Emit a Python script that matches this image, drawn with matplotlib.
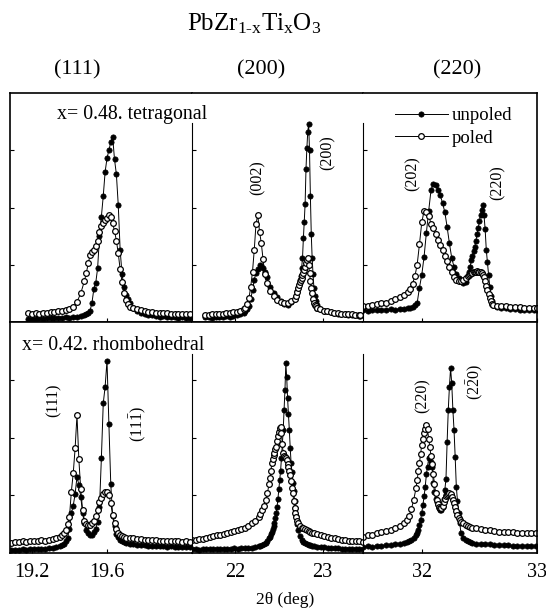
import numpy as np
import matplotlib
matplotlib.use("Agg")
import matplotlib.pyplot as plt

plt.rcParams["font.family"] = ["Liberation Serif", "DejaVu Serif"]
plt.rcParams["mathtext.fontset"] = "custom"
plt.rcParams["mathtext.rm"] = "Liberation Serif"
plt.rcParams["mathtext.it"] = "Liberation Serif:italic"

# --- x = 0.48, tetragonal (top row) ---
tet_111_x = [19.18, 19.20, 19.22, 19.24, 19.26, 19.28, 19.30, 19.32, 19.34, 19.36, 19.38, 19.40,
             19.42, 19.44, 19.46, 19.48,
             19.49, 19.50, 19.51, 19.52, 19.53, 19.54, 19.55, 19.56, 19.57, 19.58, 19.59, 19.60,
             19.61, 19.62, 19.63, 19.64, 19.65, 19.66, 19.67, 19.68, 19.69, 19.70, 19.71, 19.72,
             19.74, 19.76, 19.78, 19.80, 19.82, 19.84, 19.86, 19.88, 19.90, 19.92, 19.94, 19.96,
             19.98, 20.00, 20.02, 20.04]
tet_111_unpoled = [1.2, 1.5, 1.3, 1.6, 1.4, 1.7, 1.6, 1.8, 1.7, 1.9, 2.0, 1.9, 2.2, 2.4, 2.7, 3.1,
                   3.4, 3.8, 5.0, 8.5, 14.5, 17.1, 23.5, 37.5, 46.0, 55.0, 65.6, 71.5,
                   75.0, 78.5, 80.9, 71.0, 64.5, 51.0, 31.5, 21.0, 15.5, 12.0, 10.0, 8.2,
                   6.0, 4.8, 4.0, 3.5, 3.1, 2.9, 2.6, 2.4, 2.5, 2.2, 2.1, 2.2, 1.9, 2.0, 1.8, 1.9]
tet_111_poled = [3.8, 3.5, 4.0, 3.7, 4.1, 3.9, 4.3, 4.2, 4.6, 4.8, 5.1, 5.6, 6.7, 8.8, 12.5, 18.0,
                 21.5, 25.6, 29.3, 30.5, 31.5, 33.0, 35.5, 39.5, 41.8, 43.1, 44.5, 45.5,
                 46.7, 45.8, 43.1, 39.8, 35.5, 30.0, 23.0, 17.5, 12.5, 9.6, 8.0, 6.7,
                 6.0, 5.5, 5.2, 4.8, 4.5, 4.4, 4.1, 4.0, 3.8, 3.9, 3.6, 3.7, 3.4, 3.5, 3.3, 3.4]

tet_200_x = [21.66, 21.70, 21.74, 21.78, 21.82, 21.86, 21.90, 21.94, 21.98, 22.02, 22.06, 22.10,
             22.12, 22.14, 22.16, 22.18, 22.20, 22.22, 22.24, 22.26, 22.28, 22.30, 22.32, 22.34, 22.36,
             22.40, 22.44, 22.48, 22.52, 22.56, 22.60, 22.64, 22.68,
             22.70, 22.71, 22.72, 22.73, 22.74, 22.75, 22.76, 22.77, 22.78, 22.79, 22.80, 22.81,
             22.82, 22.83, 22.84, 22.85, 22.86, 22.87, 22.88, 22.89, 22.90, 22.91, 22.92, 22.93, 22.94,
             22.97, 23.01, 23.05, 23.09, 23.13, 23.17, 23.21, 23.25, 23.29, 23.33, 23.37, 23.41, 23.43]
tet_200_unpoled = [2.0, 2.2, 1.9, 2.1, 2.3, 2.2, 2.5, 2.4, 2.7, 3.0, 3.3, 4.0,
                   4.6, 5.5, 7.0, 10.0, 14.0, 18.5, 21.5, 23.2, 24.8, 24.5, 23.5, 21.8, 19.5,
                   15.5, 12.8, 11.0, 9.3, 7.8, 7.6, 8.6, 10.0,
                   11.5, 13.5, 14.8, 16.5, 18.2, 19.9, 23.5, 27.8, 36.5, 43.8, 51.7, 67.0,
                   76.0, 83.0, 86.5, 75.0, 55.0, 38.5, 28.0, 21.0, 15.0, 11.2, 9.0, 7.5, 6.4,
                   5.6, 5.0, 4.6, 4.2, 4.0, 3.7, 3.5, 3.3, 3.2, 3.0, 2.9, 2.8, 2.7]
tet_200_poled = [3.2, 3.0, 3.4, 3.3, 3.6, 3.5, 3.8, 4.0, 4.2, 4.5, 4.9, 5.6,
                 6.2, 8.0, 10.5, 15.5, 22.0, 31.5, 43.0, 46.7, 39.5, 34.5, 27.5, 21.0, 17.0,
                 13.5, 11.5, 9.7, 8.8, 8.3, 8.5, 9.2, 10.2,
                 11.5, 13.0, 14.8, 16.0, 17.5, 18.5, 19.3, 20.5, 21.5, 22.8, 24.0, 25.6,
                 27.0, 27.8, 24.9, 21.5, 18.0, 15.0, 12.5, 10.0, 8.5, 7.5, 6.8, 6.3, 6.0,
                 5.5, 5.0, 4.6, 4.3, 4.1, 3.9, 3.7, 3.6, 3.4, 3.3, 3.2, 3.0, 3.0]

tet_220_x = [31.49, 31.53, 31.57, 31.61, 31.65, 31.69, 31.73, 31.77, 31.81, 31.85,
             31.88, 31.90, 31.92, 31.94, 31.96, 31.98, 32.00, 32.02, 32.04, 32.06, 32.08, 32.10,
             32.12, 32.14, 32.16, 32.18, 32.20, 32.22, 32.24, 32.26, 32.28, 32.30, 32.32, 32.34,
             32.36, 32.38, 32.40,
             32.41, 32.42, 32.43, 32.44, 32.45, 32.46, 32.47, 32.48, 32.49, 32.50, 32.51, 32.52,
             32.53, 32.54, 32.55, 32.56, 32.57, 32.58, 32.59, 32.60, 32.61, 32.62,
             32.65, 32.69, 32.73, 32.77, 32.81, 32.85, 32.89, 32.93, 32.97, 33.00]
tet_220_unpoled = [5.4, 5.0, 5.3, 5.1, 5.4, 5.2, 5.5, 5.4, 5.7, 5.8,
                   6.0, 6.2, 6.6, 7.3, 8.3, 15.0, 20.6, 28.5, 39.0, 48.5, 57.5, 60.4,
                   59.8, 57.8, 55.5, 52.0, 48.0, 41.5, 34.3, 28.0, 24.0, 21.0, 19.0, 17.8,
                   17.2, 17.3, 19.9,
                   22.0, 24.0, 27.1, 29.0, 31.0, 32.9, 35.5, 38.5, 41.0, 44.0, 46.7, 49.0,
                   51.0, 46.7, 40.5, 31.4, 26.0, 20.5, 15.5, 11.5, 9.0, 7.6,
                   6.6, 6.3, 6.0, 5.8, 5.6, 5.4, 5.3, 5.2, 5.1, 5.1]
tet_220_poled = [6.8, 7.0, 7.4, 7.7, 8.1, 8.5, 9.3, 10.0, 10.9, 11.8,
                 13.0, 14.5, 16.8, 19.9, 25.0, 34.0, 43.5, 48.5, 48.0, 46.5, 43.0, 41.0,
                 38.5, 35.8, 33.5, 31.4, 29.0, 26.5, 24.2, 21.8, 19.8, 18.4, 17.9, 17.7,
                 18.5, 19.3, 20.2,
                 20.6, 21.0, 21.3, 21.6, 21.8, 22.0, 22.0, 22.1, 22.0, 22.0, 22.0, 21.4,
                 20.6, 19.5, 17.7, 15.8, 14.0, 12.2, 10.4, 9.0, 8.0, 7.5,
                 7.1, 6.9, 6.8, 6.6, 6.5, 6.4, 6.3, 6.2, 6.1, 6.1]

# --- x = 0.42, rhombohedral (bottom row) ---
rho_111_x = [19.09, 19.11, 19.13, 19.15, 19.17, 19.19, 19.21, 19.23, 19.25, 19.27, 19.29, 19.31,
             19.33, 19.35,
             19.36, 19.37, 19.38, 19.39, 19.40, 19.41, 19.42, 19.43, 19.44, 19.45, 19.46, 19.47,
             19.48, 19.49, 19.50, 19.51, 19.52, 19.53, 19.54, 19.55, 19.56, 19.57, 19.58, 19.59,
             19.60, 19.61, 19.62, 19.63, 19.64, 19.65, 19.66, 19.67, 19.68, 19.69, 19.70,
             19.72, 19.74, 19.76, 19.78, 19.80, 19.82, 19.84, 19.86, 19.88, 19.90, 19.92, 19.94,
             19.96, 19.98, 20.00, 20.02, 20.04]
rho_111_unpoled = [1.3, 1.5, 1.4, 1.6, 1.5, 1.7, 1.6, 1.8, 1.9, 1.8, 2.0, 2.2, 2.4, 2.9,
                   3.3, 3.9, 5.0, 6.5, 10.5, 17.2, 20.5, 25.5, 33.0, 29.5, 24.4, 17.2,
                   12.8, 10.0, 8.5, 7.8, 8.0, 8.9, 10.5, 13.5, 20.0, 41.0, 64.8, 72.0,
                   83.3, 56.0, 30.0, 16.0, 11.5, 8.2, 6.8, 5.6, 5.0, 4.6, 4.3,
                   4.0, 3.9, 3.6, 3.5, 3.3, 3.2, 3.1, 3.0, 3.0, 2.9, 2.8, 2.9, 2.7, 2.8, 2.6, 2.7, 2.6]
rho_111_poled = [4.5, 4.8, 4.6, 5.0, 4.9, 5.2, 5.3, 5.1, 5.5, 5.4, 5.6, 6.0, 6.5, 7.1,
                 7.8, 8.6, 10.0, 12.5, 15.7, 26.6, 34.5, 45.3, 59.7, 40.5, 27.5, 18.5,
                 14.0, 12.6, 12.2, 12.1, 12.8, 14.0, 16.0, 18.8, 22.2, 24.0, 25.5, 26.2,
                 26.6, 25.3, 21.5, 16.5, 12.8, 10.2, 8.5, 7.8, 7.2, 6.9, 6.6,
                 6.3, 6.3, 6.0, 5.9, 5.8, 5.6, 5.5, 5.5, 5.3, 5.4, 5.2, 5.1, 5.1, 5.0, 4.9, 5.0, 4.9]

rho_200_x = [21.51, 21.55, 21.59, 21.63, 21.67, 21.71, 21.75, 21.79, 21.83, 21.87, 21.91, 21.95,
             21.99, 22.03, 22.07, 22.11, 22.15, 22.19, 22.23, 22.27,
             22.29, 22.31, 22.33, 22.35, 22.37, 22.39,
             22.40, 22.41, 22.42, 22.43, 22.44, 22.45, 22.46, 22.47, 22.48, 22.49, 22.50, 22.51,
             22.52, 22.53, 22.54, 22.55, 22.56, 22.57, 22.58, 22.59, 22.60, 22.61, 22.62, 22.63,
             22.64, 22.65, 22.66, 22.67, 22.68, 22.69, 22.70, 22.71, 22.72,
             22.74, 22.76, 22.78, 22.80, 22.82, 22.84, 22.86, 22.88, 22.90,
             22.94, 22.98, 23.02, 23.06, 23.10, 23.14, 23.18, 23.22, 23.26, 23.30, 23.34, 23.38,
             23.42, 23.46]
rho_200_unpoled = [1.6, 1.8, 1.5, 1.7, 1.6, 1.8, 1.7, 1.9, 1.7, 1.8, 1.9, 1.8,
                   2.0, 1.9, 2.0, 2.1, 2.2, 2.3, 2.5, 2.9,
                   3.2, 3.5, 3.9, 4.5, 5.3, 6.5,
                   7.1, 8.2, 9.3, 10.5, 11.8, 13.2, 15.0, 17.2, 20.0, 23.5, 27.5, 31.5,
                   35.5, 41.0, 47.0, 53.2, 62.0, 70.6, 82.1, 76.0, 67.0, 60.0, 53.2, 45.5,
                   39.0, 35.0, 30.5, 27.0, 22.5, 19.5, 16.0, 12.5, 10.0,
                   7.2, 5.6, 4.7, 4.2, 3.8, 3.6, 3.4, 3.2, 3.0,
                   2.8, 2.6, 2.4, 2.3, 2.2, 2.1, 2.0, 1.9, 1.9, 1.8, 1.8, 1.7, 1.6, 1.6]
rho_200_poled = [5.5, 5.8, 6.0, 6.2, 6.6, 7.0, 7.2, 7.6, 7.9, 8.3, 8.6, 9.0,
                 9.4, 9.8, 10.3, 11.0, 11.8, 12.8, 14.0, 15.7,
                 17.0, 18.5, 20.5, 23.0, 26.0, 30.0,
                 32.5, 35.5, 38.8, 40.5, 42.5, 43.5, 45.0, 46.0, 48.5, 50.5, 52.5, 54.0,
                 54.7, 51.8, 47.0, 43.1, 42.2, 41.7, 41.0, 40.3, 38.5, 37.4, 35.5, 33.8,
                 31.0, 28.0, 25.8, 22.5, 19.5, 17.5, 15.7, 14.0, 12.8,
                 11.8, 11.0, 10.7, 10.3, 9.8, 9.5, 9.0, 8.7, 8.5,
                 8.1, 7.7, 7.3, 6.9, 6.6, 6.3, 6.0, 5.8, 5.6, 5.4, 5.2, 5.1, 5.0, 4.9]

rho_220_x = [31.49, 31.53, 31.57, 31.61, 31.65, 31.69, 31.73, 31.77, 31.81, 31.85,
             31.87, 31.89, 31.91, 31.93, 31.95,
             31.96, 31.97, 31.98, 31.99, 32.00, 32.01, 32.02, 32.03, 32.04, 32.05, 32.06, 32.07,
             32.08, 32.09, 32.10, 32.11, 32.12, 32.13, 32.14, 32.15, 32.16, 32.17, 32.18, 32.19,
             32.20, 32.21, 32.22, 32.23, 32.24, 32.25, 32.26, 32.27, 32.28, 32.29, 32.30, 32.31,
             32.32, 32.33, 32.34,
             32.36, 32.38, 32.40, 32.42, 32.44,
             32.47, 32.51, 32.55, 32.59, 32.63, 32.67, 32.71, 32.75, 32.79, 32.83, 32.87, 32.91,
             32.95, 32.99]
rho_220_unpoled = [2.7, 2.9, 2.8, 3.0, 3.1, 3.3, 3.5, 3.8, 4.1, 4.5,
                   4.9, 5.3, 5.8, 6.6, 7.6,
                   8.5, 10.0, 12.0, 14.3, 17.5, 20.8, 24.5, 28.7, 34.0, 37.4, 41.0, 41.7,
                   39.5, 37.4, 30.5, 26.5, 23.5, 22.0, 20.6, 19.5, 18.8, 18.6, 20.0, 23.5,
                   27.3, 32.0, 48.0, 62.0, 72.0, 80.0, 73.5, 62.0, 53.2, 41.5, 28.5, 22.5,
                   17.2, 13.0, 8.5,
                   6.5, 5.6, 5.0, 4.6, 4.3,
                   4.0, 3.9, 3.8, 3.7, 3.6, 3.5, 3.4, 3.3, 3.2, 3.2, 3.1, 3.1, 3.0, 3.0]
rho_220_poled = [7.1, 7.6, 8.0, 8.5, 8.9, 9.4, 10.0, 10.8, 11.8, 13.0,
                 14.5, 16.2, 19.0, 23.0, 28.0,
                 31.5, 35.5, 39.0, 43.0, 46.8, 49.5, 51.8, 53.5, 55.4, 53.5, 49.5, 46.0,
                 42.0, 38.5, 34.0, 30.0, 26.0, 22.9, 21.0, 20.0, 19.5, 19.3, 20.5, 22.2,
                 23.5, 24.5, 25.1, 25.5, 25.8, 25.4, 24.4, 23.0, 21.5, 20.0, 18.2, 16.5,
                 15.2, 14.3, 13.5,
                 12.8, 12.1, 11.7, 11.3, 11.0,
                 10.7, 10.4, 10.1, 9.8, 9.5, 9.3, 9.2, 9.0, 8.9, 8.8, 8.7, 8.6, 8.5, 8.5]

col_xlims = [(19.083, 20.053), (21.51, 23.46), (31.49, 33.0)]
col_xticks = [[19.2, 19.6], [22, 23], [32, 33]]
col_xtick_labels = [["19.2", "19.6"], ["22", "23"], ["32", "33"]]
col_headers = ["(111)", "(200)", "(220)"]

W, H = 546, 611
fig = plt.figure(figsize=(W / 100, H / 100), dpi=100)


def fx(px):
    return px / W


def fy(py):
    return 1 - py / H


col_edges = [10, 192, 363, 537]
row_edges = [93, 322, 553]

panels = [
    (0, 0, tet_111_x, tet_111_unpoled, tet_111_poled),
    (0, 1, tet_200_x, tet_200_unpoled, tet_200_poled),
    (0, 2, tet_220_x, tet_220_unpoled, tet_220_poled),
    (1, 0, rho_111_x, rho_111_unpoled, rho_111_poled),
    (1, 1, rho_200_x, rho_200_unpoled, rho_200_poled),
    (1, 2, rho_220_x, rho_220_unpoled, rho_220_poled),
]
divider_top = [87, 86]

axes = {}
for row, col, x, unp, pol in panels:
    left, right = col_edges[col], col_edges[col + 1]
    top, bottom = row_edges[row], row_edges[row + 1]
    ax = fig.add_axes([fx(left), fy(bottom), fx(right - left), (bottom - top) / H])
    l1, = ax.plot(x, unp, "-", color="black", lw=0.7, marker="o", ms=3.8,
                  mfc="black", mec="black", mew=0.5)
    l2, = ax.plot(x, pol, "-", color="black", lw=0.7, marker="o", ms=4.1,
                  mfc="white", mec="black", mew=0.9)
    ax.set_xlim(*col_xlims[col])
    ax.set_ylim(0, 100)
    ax.set_yticks([25, 50, 75])
    ax.set_yticklabels([])
    ax.set_xticks(col_xticks[col])
    if row == 1:
        ax.set_xticklabels(col_xtick_labels[col])
    else:
        ax.set_xticklabels([])
    ax.tick_params(axis="both", direction="in", length=3, width=0.8,
                   labelsize=14.5, pad=7)
    for s in ax.spines.values():
        s.set_linewidth(1.2)
    if col < 2:
        ax.spines["right"].set_visible(False)
    if col > 0:
        ax.spines["left"].set_linewidth(0.8)
        ax.spines["left"].set_bounds(0, divider_top[row])
    axes[(row, col)] = ax

# legend (top right)
fig.legend([l1, l2], ["unpoled", "poled"], loc="center left",
           bbox_to_anchor=(fx(395), fy(127)), frameon=False, fontsize=13.5,
           handlelength=2.8, handletextpad=0.2, labelspacing=0.3,
           borderpad=0, borderaxespad=0)

# peak labels
peak_labels = [
    ((0, 1), 22.26, 63, "(002)"),
    ((0, 1), 23.06, 74, "(200)"),
    ((0, 2), 31.92, 65, "(202)"),
    ((0, 2), 32.66, 61, "(220)"),
    ((1, 0), 19.317, 66, "(111)"),
    ((1, 0), 19.765, 56, r"(11$\bar{1}$)"),
    ((1, 2), 32.01, 68, "(220)"),
    ((1, 2), 32.456, 74, r"(2$\bar{2}$0)"),
]
for key, xp, yp, txt in peak_labels:
    axes[key].text(xp, yp, txt, rotation=90, ha="center", va="center", fontsize=11.5)

# titles and annotations
fig.text(fx(254), fy(24),
         "PbZr$_{\\mathregular{1\u2010x}}$Ti$_{\\mathregular{x}}$O$_{\\mathregular{3}}$",
         ha="center", va="center", fontsize=18)
for cx, hdr in zip([77, 261, 457], col_headers):
    fig.text(fx(cx), fy(70), hdr, ha="center", va="center", fontsize=16)
fig.text(fx(57), fy(115), "x= 0.48. tetragonal", ha="left", va="center", fontsize=14.3)
fig.text(fx(22), fy(345), "x= 0.42. rhombohedral", ha="left", va="center", fontsize=14.3)
fig.text(fx(285), fy(600), "2\u03b8 (deg)", ha="center", va="center", fontsize=12.5)

fig.savefig("out.png", dpi=100)
